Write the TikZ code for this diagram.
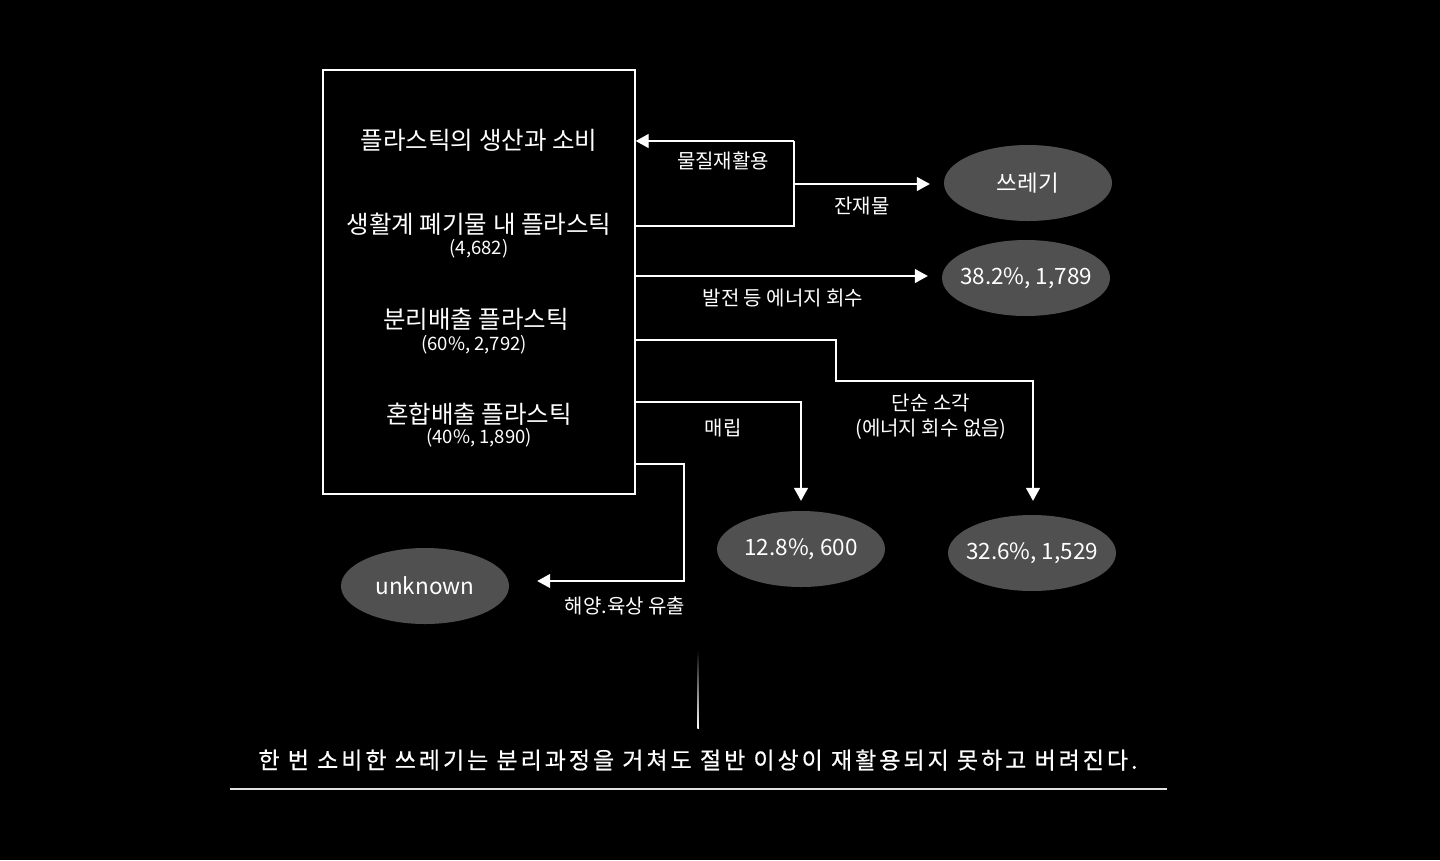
\documentclass[tikz,border=0pt]{standalone}
\usepackage{fontspec}
\newfontfamily\kr{Noto Sans CJK KR}
\newfontfamily\krsp[LetterSpace=13,FakeBold=0.6]{Noto Sans CJK KR}
\usetikzlibrary{arrows.meta,shapes.geometric,calc}
\definecolor{ellgray}{RGB}{80,80,80}
\definecolor{linegray}{RGB}{225,225,225}
\newcommand{\ovtxt}[1]{\makebox[0pt]{#1}}
\begin{document}
\begin{tikzpicture}[x=1pt,y=-1pt,
  conn/.style={draw=white, line width=1.4pt},
  arr/.style={conn, -{Triangle[width=14pt,length=13pt]}},
  bigtxt/.style={text=white, font=\kr\fontsize{24.5}{28}\selectfont, inner sep=0pt},
  subtxt/.style={text=white, font=\kr\fontsize{18.5}{22}\selectfont, inner sep=0pt},
  lbl/.style={text=white, font=\kr\fontsize{20}{24}\selectfont, inner sep=0pt},
  oval/.style={ellipse, fill=ellgray, minimum width=168pt, minimum height=76pt, inner sep=0pt,
     text=white, font=\kr\fontsize{22.5}{26}\selectfont}
]
\useasboundingbox (0,0) rectangle (1440,860);
\fill[black] (0,0) rectangle (1440,860);

% main box
\node[draw=white, line width=1.4pt, minimum width=312pt, minimum height=424pt, inner sep=0pt] (box) at (479,282) {};
\node[bigtxt] (t1) at (479,140) {플라스틱의 생산과 소비};
\node[bigtxt] (t2) at (479,224) {생활계 폐기물 내 플라스틱};
\node[subtxt] (t2s) at (479,249) {(4,682)};
\node[bigtxt] (t3) at (476,319) {분리배출 플라스틱};
\node[subtxt] (t3s) at (474,345) {(60\%, 2,792)};
\node[bigtxt] (t4) at (479,414) {혼합배출 플라스틱};
\node[subtxt] (t4s) at (479,438) {(40\%, 1,890)};

% ellipses
\node[oval] (trash) at (1028,183) {\ovtxt{쓰레기}};
\node[oval] (energy) at (1026,278) {\ovtxt{38.2\%, 1,789}};
\node[oval] (landfill) at (801,549) {\ovtxt{12.8\%, 600}};
\node[oval] (burn) at (1032,553) {\ovtxt{32.6\%, 1,529}};
\node[oval] (unk) at (425,586) {\ovtxt{unknown}};

% helper coordinates
\coordinate (r1) at (794,226);
\coordinate (r2) at (794,141);
\coordinate (r3) at (794,184);
\coordinate (e1) at (0,276);
\coordinate (b1) at (836,340);
\coordinate (b2) at (836,381);
\coordinate (b3) at (1033,381);
\coordinate (l1) at (801,402);
\coordinate (u1) at (684,464);
\coordinate (u2) at (684,581);

% recycling loop
\draw[conn] (box.east |- r1) -- (r1) -- (r2);
\draw[arr] (r2) -- (box.east |- r2);
\draw[arr] (r3) -- ([xshift=-14pt]trash.west |- r3);
% energy recovery
\draw[arr] (box.east |- e1) -- ([xshift=-14pt]energy.west |- e1);
% incineration
\draw[arr] (box.east |- b1) -- (b1) -- (b2) -- (b3) -- ([yshift=14pt]burn.north -| b3);
% landfill
\draw[arr] (box.east |- l1) -- (l1) -- ([yshift=10pt]landfill.north -| l1);
% leakage
\draw[arr] (box.east |- u1) -- (u1) -- (u2) -- ([xshift=28pt]unk.east |- u2);

% labels
\node[lbl] (lr) at (723,161) {물질재활용};
\node[lbl] (lj) at (862,206) {잔재물};
\node[lbl] (le) at (783,298) {발전 등 에너지 회수};
\node[lbl] (ll) at (723,428) {매립};
\node[lbl] (lb1) at (931,403) {단순 소각};
\node[lbl] (lb2) at (931,429) {(에너지 회수 없음)};
\node[lbl] (lu) at (625,606) {해양.육상 유출};

% bottom
\shade[top color=black, bottom color=white] (697.4,650) rectangle (698.8,728);
\node[text=white, font=\krsp\fontsize{23}{26}\selectfont, inner sep=0pt] (cap) at (698,760) {한 번 소비한 쓰레기는 분리과정을 거쳐도 절반 이상이 재활용되지 못하고 버려진다.};
\draw[draw=linegray, line width=2pt] (230,789) -- (1167,789);
\end{tikzpicture}
\end{document}
